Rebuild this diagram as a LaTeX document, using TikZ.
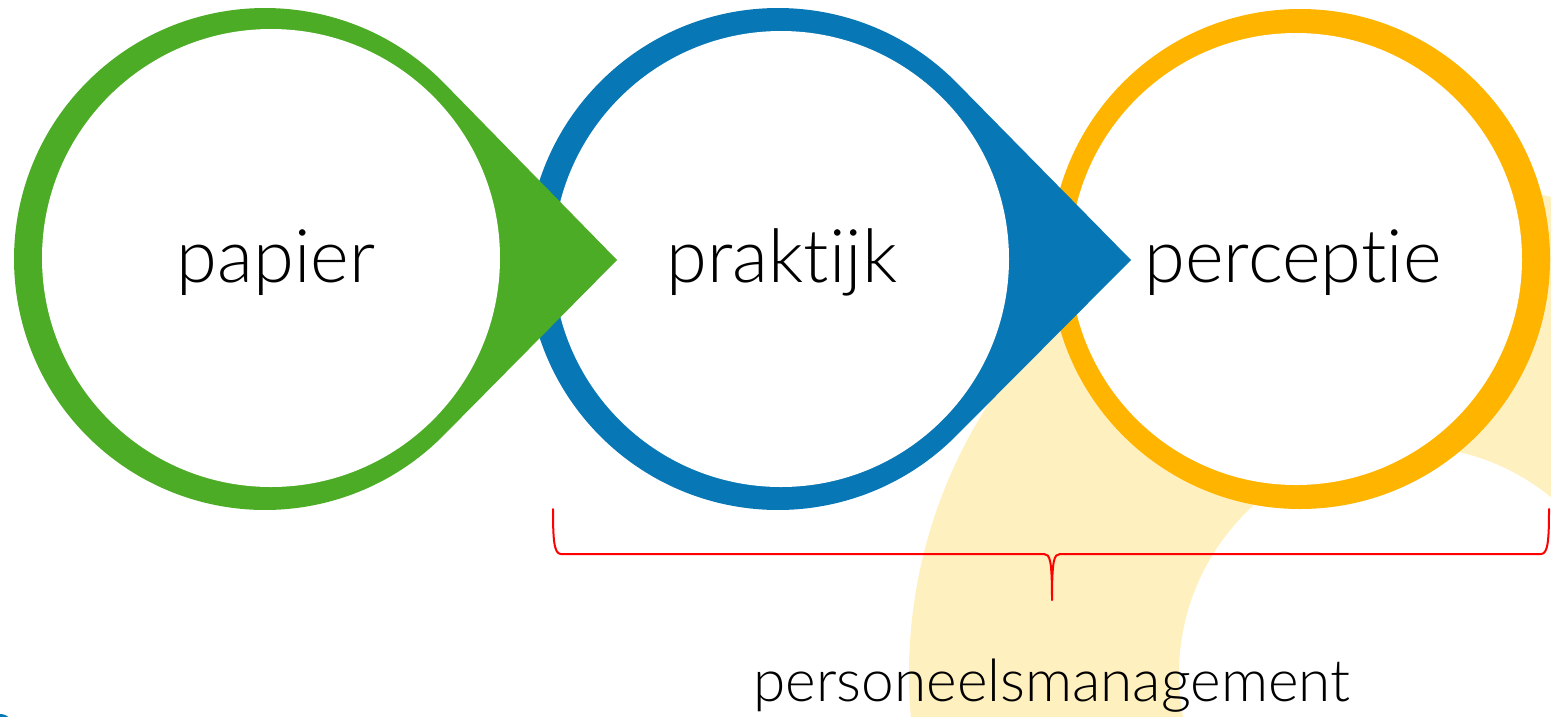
\documentclass[tikz,border=0pt]{standalone}
\usepackage{fontspec}
\setmainfont{Lato}[UprightFont={* Light}, Ligatures=NoCommon]
\usepackage{tikz}
\usetikzlibrary{calc}
\definecolor{papiergreen}{RGB}{77,172,38}
\definecolor{praktijkblue}{RGB}{8,119,181}
\definecolor{perceptieorange}{RGB}{255,180,0}
\definecolor{paleyellow}{RGB}{255,240,192}
\definecolor{bracered}{RGB}{255,0,0}
\tikzset{
	word/.style={font=\fontsize{74}{88}\selectfont, inner sep=0pt, anchor=base},
	bottom word/.style={font=\fontsize{58.5}{70}\selectfont, inner sep=0pt, anchor=base},
	brace line/.style={draw=bracered, line width=2pt, line cap=round, line join=round}
}
\begin{document}
\begin{tikzpicture}[x=1pt,y=1pt]
	\useasboundingbox (0,0) rectangle (1551,-716);
	\clip (0,0) rectangle (1551,-716);
	% background arc
	\fill[paleyellow, even odd rule] (1407,-674) circle[radius=498] (1407,-674) circle[radius=228];
	\fill[praktijkblue] (0,-728) circle[radius=14];
	% rings
	\coordinate (oc) at (1300,-259);
	\fill[perceptieorange] (oc) circle[radius=250];
	\fill[white] (1296,-259) circle[radius=226];
	\coordinate (bc) at (778,-259);
	\coordinate (btip) at (1131,-260);
	\fill[praktijkblue] (btip) -- ($(bc)+(44.7:251)$) arc[start angle=44.7, end angle=315.3, radius=251] -- cycle;
	\fill[white] (781,-259) circle[radius=228];
	\coordinate (gc) at (265,-259);
	\coordinate (gtip) at (617,-260);
	\fill[papiergreen] (gtip) -- ($(gc)+(44.5:251)$) arc[start angle=44.5, end angle=315.5, radius=251] -- cycle;
	\fill[white] (271,-258) circle[radius=229];
	% labels
	\node[word] (papier) at (276,-282) {papier};
	\node[word] (praktijk) at (782,-282) {praktijk};
	\node[word] (perceptie) at (1293,-282) {perceptie};
	% brace
	\coordinate (bleft) at (553,-509);
	\coordinate (btop) at (1052,-600);
	\coordinate (bright) at (1549,-509);
	\draw[brace line] (bleft) .. controls (553,-540) and (554,-554) .. (561,-554) -- (1044,-554)
		.. controls (1050,-554) and (1052,-560) .. (btop)
		.. controls (1052,-560) and (1054,-554) .. (1060,-554) -- (1541,-554)
		.. controls (1548,-554) and (1549,-540) .. (bright);
	\node[bottom word] (management) at (1052,-701) {personeelsmanagement};
\end{tikzpicture}
\end{document}
